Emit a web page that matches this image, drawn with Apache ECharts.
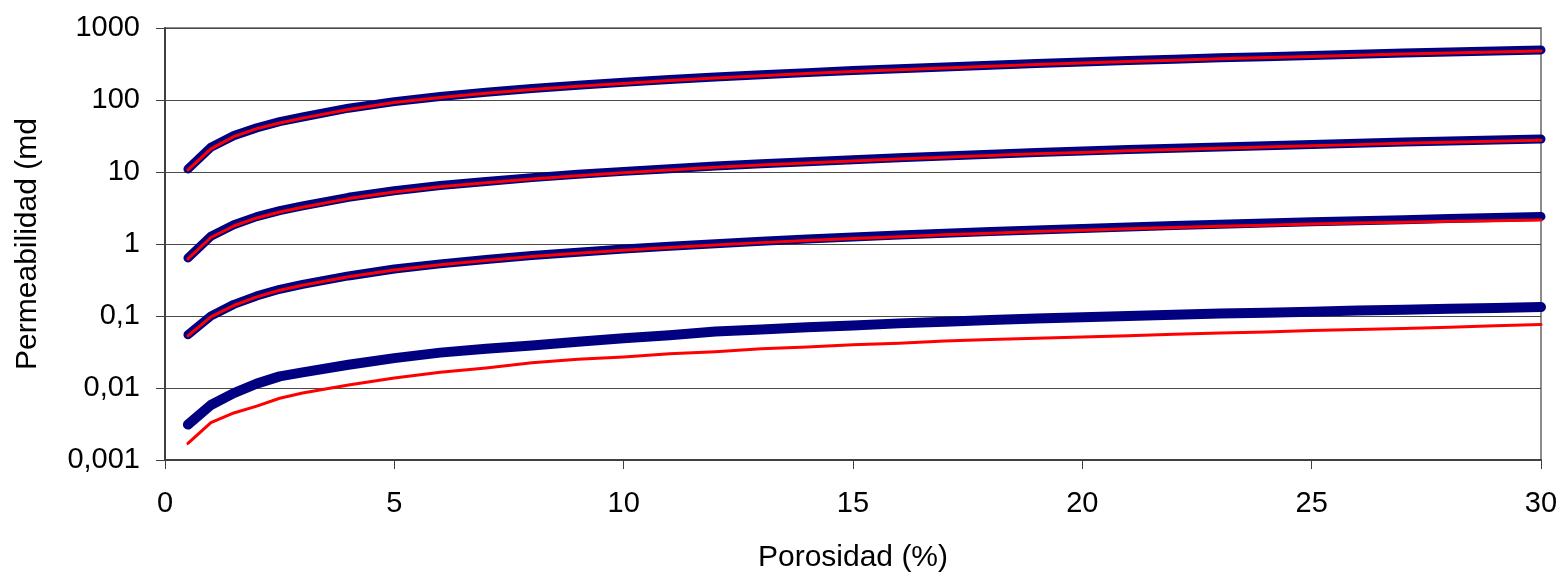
<!DOCTYPE html>
<html>
<head>
<meta charset="utf-8">
<script src="https://cdn.jsdelivr.net/npm/echarts@6/dist/echarts.min.js"></script>
<style>
  html, body { margin: 0; padding: 0; background: #ffffff; }
  #chart { width: 1568px; height: 579px; }
</style>
</head>
<body>
<div id="chart"></div>
<script>
// Porosity (%) values
const porosidad = [0.5, 1, 1.5, 2, 2.5, 3, 4, 5, 6, 7, 8, 9, 10, 11, 12, 13, 14, 15, 16, 17, 18, 19, 20, 21, 22, 23, 24, 25, 26, 27, 28, 29, 30];

// Permeability (md) – thick navy curves
const perm1Navy = [11, 22, 32, 41, 50, 58, 77, 95, 112, 128, 144, 160, 176, 192, 208, 224, 240, 256, 272, 288, 305, 321, 337, 353, 369, 385, 400, 416, 432, 448, 463, 479, 495];
const perm2Navy = [0.64, 1.28, 1.85, 2.4, 2.9, 3.38, 4.45, 5.5, 6.5, 7.4, 8.35, 9.3, 10.2, 11.1, 12.1, 13.0, 13.9, 14.8, 15.8, 16.7, 17.7, 18.6, 19.5, 20.5, 21.4, 22.3, 23.2, 24.1, 25.0, 26.0, 26.9, 27.8, 28.7];
const perm3Navy = [0.055, 0.1, 0.145, 0.19, 0.235, 0.275, 0.36, 0.45, 0.53, 0.61, 0.69, 0.77, 0.85, 0.93, 1.01, 1.09, 1.17, 1.25, 1.33, 1.41, 1.49, 1.57, 1.64, 1.72, 1.80, 1.88, 1.95, 2.03, 2.11, 2.18, 2.26, 2.33, 2.41];
const perm4Navy = [0.0031, 0.0058, 0.0085, 0.0115, 0.0145, 0.0165, 0.021, 0.026, 0.031, 0.035, 0.039, 0.044, 0.049, 0.054, 0.061, 0.065, 0.070, 0.074, 0.079, 0.083, 0.088, 0.092, 0.096, 0.100, 0.104, 0.108, 0.111, 0.115, 0.119, 0.122, 0.126, 0.129, 0.133];

// Permeability (md) – thin red curves
const perm1Red = [10.7, 21, 31, 40, 48, 56, 74, 92, 108, 124, 140, 155, 170, 186, 202, 217, 233, 248, 264, 279, 295, 311, 326, 342, 357, 373, 388, 403, 419, 434, 449, 464, 480];
const perm2Red = [0.62, 1.23, 1.78, 2.3, 2.78, 3.24, 4.27, 5.28, 6.24, 7.1, 8.0, 8.9, 9.8, 10.7, 11.6, 12.5, 13.3, 14.2, 15.2, 16.0, 17.0, 17.9, 18.7, 19.7, 20.5, 21.4, 22.3, 23.1, 24.0, 25.0, 25.8, 26.7, 27.5];
const perm3Red = [0.053, 0.097, 0.14, 0.184, 0.228, 0.267, 0.35, 0.436, 0.514, 0.59, 0.668, 0.745, 0.82, 0.895, 0.97, 1.045, 1.12, 1.195, 1.265, 1.34, 1.415, 1.49, 1.555, 1.625, 1.69, 1.76, 1.825, 1.89, 1.95, 2.01, 2.07, 2.11, 2.16];
const perm4Red = [0.0017, 0.0033, 0.0045, 0.0056, 0.0072, 0.0085, 0.011, 0.0138, 0.0165, 0.019, 0.0225, 0.025, 0.027, 0.030, 0.032, 0.035, 0.037, 0.040, 0.042, 0.045, 0.047, 0.049, 0.051, 0.053, 0.056, 0.058, 0.060, 0.063, 0.065, 0.067, 0.070, 0.073, 0.076];

// Tick labels (log decades)
const yTickLabels = ['0,001', '0,01', '0,1', '1', '10', '100', '1000'];
const xTitle = 'Porosidad (%)';
const yTitle = 'Permeabilidad (md';

const FONT = "'Liberation Sans', Arial, sans-serif";
const NAVY = '#000080';
const RED = '#ff0000';

function pairs(ys) { return porosidad.map((x, i) => [x, ys[i]]); }
function line(name, ys, color, width, z) {
  return {
    name: name, type: 'line', data: pairs(ys), showSymbol: false, symbol: 'none',
    smooth: false, z: z,
    lineStyle: { color: color, width: width, cap: 'round', join: 'round' }
  };
}

const chart = echarts.init(document.getElementById('chart'), null, { renderer: 'canvas' });
chart.setOption({
  animation: false,
  backgroundColor: '#ffffff',
  grid: {
    left: 165, right: 27, top: 28, bottom: 119,
    show: true, borderColor: '#8c8c8c', borderWidth: 2, backgroundColor: 'transparent'
  },
  xAxis: {
    type: 'value', min: 0, max: 30, interval: 5,
    name: xTitle, nameLocation: 'middle', nameGap: 83,
    nameTextStyle: { fontFamily: FONT, fontSize: 30, color: '#000' },
    axisLine: { show: true, onZero: false, lineStyle: { color: '#404040', width: 2 } },
    axisTick: { show: true, inside: false, length: 9, lineStyle: { color: '#404040', width: 1 } },
    axisLabel: { fontFamily: FONT, fontSize: 29, color: '#000', margin: 29 },
    splitLine: { show: false }
  },
  yAxis: {
    type: 'log', logBase: 10, min: 0.001, max: 1000,
    name: yTitle, nameLocation: 'middle', nameGap: 122, nameRotate: 90,
    nameTextStyle: { fontFamily: FONT, fontSize: 30, color: '#000' },
    axisLine: { show: true, lineStyle: { color: '#404040', width: 2 } },
    axisTick: { show: true, inside: false, length: 9, lineStyle: { color: '#404040', width: 1 } },
    axisLabel: {
      fontFamily: FONT, fontSize: 29, color: '#000', margin: 25,
      formatter: function (v) { return yTickLabels[Math.round(Math.log10(v)) + 3]; }
    },
    splitLine: { show: true, lineStyle: { color: '#4a4a4a', width: 1 } }
  },
  series: [
    line('k1 navy', perm1Navy, NAVY, 9, 2),
    line('k1 red', perm1Red, RED, 3, 3),
    line('k2 navy', perm2Navy, NAVY, 9, 2),
    line('k2 red', perm2Red, RED, 3, 3),
    line('k3 navy', perm3Navy, NAVY, 9, 2),
    line('k3 red', perm3Red, RED, 3, 3),
    line('k4 navy', perm4Navy, NAVY, 10, 2),
    line('k4 red', perm4Red, RED, 3, 3)
  ]
});
</script>
</body>
</html>
